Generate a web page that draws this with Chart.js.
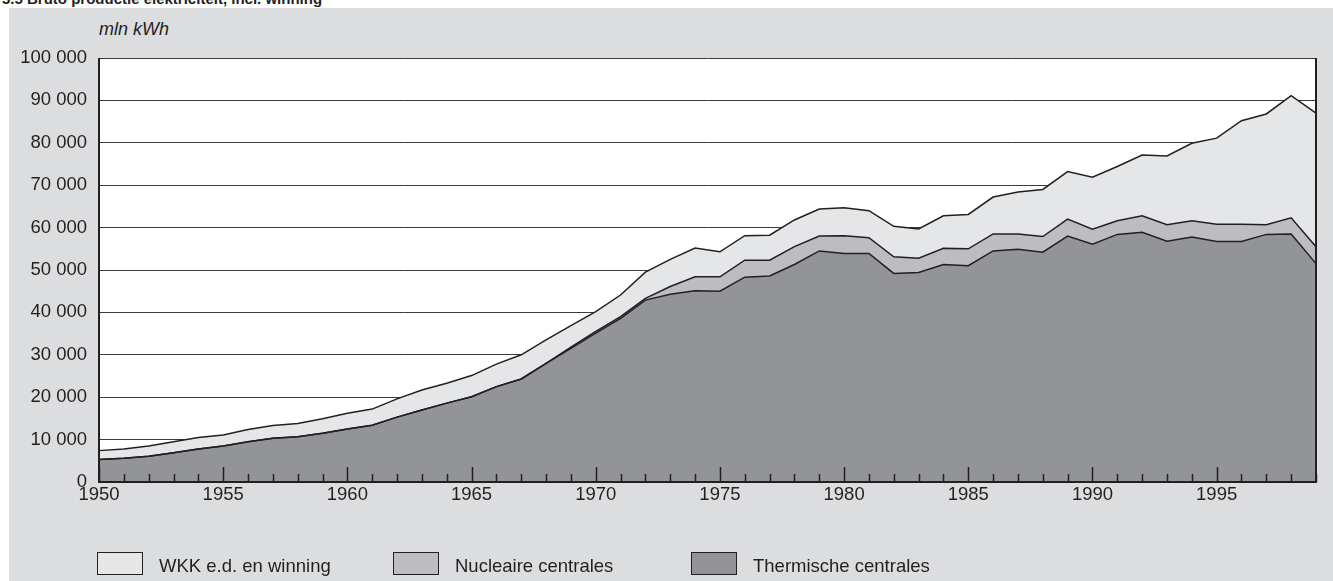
<!DOCTYPE html>
<html>
<head>
<meta charset="utf-8">
<script src="https://cdn.jsdelivr.net/npm/chart.js@4.4.1/dist/chart.umd.min.js"></script>
<style>
  html, body { margin: 0; padding: 0; background: #ffffff; width: 1333px; height: 581px; overflow: hidden; font-family: 'Liberation Sans', Arial, sans-serif; }
  #title { position: absolute; left: 2px; top: -10px; font-weight: bold; font-size: 15px; color: #231f20; white-space: nowrap; }
  #panel { position: absolute; left: 9px; top: 8px; width: 1324px; height: 573px; background: #dcdddf; }
  #unit { position: absolute; left: 99px; top: 19px; font-style: italic; font-size: 18px; color: #231f20; }
  #wrap { position: absolute; left: 9px; top: 8px; width: 1324px; height: 573px; }
  .leg { position: absolute; top: 552px; height: 23px; font-size: 18.5px; color: #231f20; line-height: 23px; white-space: nowrap; }
  .leg span.box { position: absolute; left: 0; top: 0; width: 46px; height: 23px; border: 1.5px solid #231f20; box-sizing: border-box; }
  .leg span.txt { position: absolute; left: 62px; top: 2px; }
</style>
</head>
<body>
<div id="title">3.5  Bruto productie elektriciteit, incl. winning</div>
<div id="panel"></div>
<div id="unit">mln kWh</div>
<div id="wrap"><canvas id="chartElec"></canvas></div>
<div id="legend"></div>

<script>
/* ================================================================
   Bruto productie elektriciteit (mln kWh), 1950-1999
   ================================================================ */

const years = [
  '1950','1951','1952','1953','1954','1955','1956','1957','1958','1959',
  '1960','1961','1962','1963','1964','1965','1966','1967','1968','1969',
  '1970','1971','1972','1973','1974','1975','1976','1977','1978','1979',
  '1980','1981','1982','1983','1984','1985','1986','1987','1988','1989',
  '1990','1991','1992','1993','1994','1995','1996','1997','1998','1999'
];

const thermisch = [
  5300, 5600, 6100, 6900, 7800, 8500, 9500, 10300, 10700, 11500,
  12500, 13400, 15300, 17000, 18600, 20100, 22500, 24300, 28000, 31500,
  35100, 38600, 42900, 44300, 45100, 45000, 48300, 48600, 51300, 54500,
  53900, 53900, 49200, 49400, 51300, 51000, 54500, 54900, 54200, 58000,
  56100, 58400, 58900, 56800, 57800, 56700, 56700, 58400, 58500, 51500
];

const nucleair = [
  0, 0, 0, 0, 0, 0, 0, 0, 0, 0,
  0, 0, 0, 0, 0, 0, 0, 0, 0, 300,
  400, 400, 400, 1800, 3300, 3400, 4000, 3700, 4200, 3500,
  4200, 3700, 3900, 3400, 3800, 4000, 4000, 3600, 3700, 4000,
  3500, 3200, 3900, 3900, 3800, 4100, 4100, 2300, 3800, 4000
];

const wkk = [
  2100, 2200, 2400, 2600, 2700, 2600, 2900, 3000, 3100, 3400,
  3700, 3800, 4300, 4700, 4700, 5000, 5300, 5700, 5500, 5100,
  4700, 5100, 6200, 6400, 6800, 5900, 5800, 5900, 6300, 6400,
  6600, 6400, 7200, 6900, 7700, 8100, 8700, 9900, 11100, 11200,
  12300, 12800, 14300, 16200, 18300, 20300, 24400, 26100, 28800, 31500
];

const seriesNames = ['WKK e.d. en winning', 'Nucleaire centrales', 'Thermische centrales'];
const seriesColors = ['#e5e6e8', '#bcbdc0', '#939498'];
const legendLeft = [97, 393, 691];

const INK = '#231f20';
const FONT = "'Liberation Sans', Arial, sans-serif";

// legend (HTML, bottom of panel)
const legendEl = document.getElementById('legend');
seriesNames.forEach(function(name, i) {
  const item = document.createElement('div');
  item.className = 'leg';
  item.style.left = legendLeft[i] + 'px';
  item.innerHTML = '<span class="box" style="background:' + seriesColors[i] + '"></span><span class="txt">' + name + '</span>';
  legendEl.appendChild(item);
});

// year ticks drawn inward from the x axis, plus the frame
const frameTicks = {
  id: 'frameTicks',
  afterDatasetsDraw: function(chart) {
    const { ctx, chartArea, scales } = chart;
    const x = scales.x;
    ctx.save();
    ctx.strokeStyle = INK;
    ctx.lineWidth = 1.5;
    years.forEach(function(y, i) {
      const px = Math.round(x.getPixelForValue(i)) + 0.5;
      const len = (parseInt(y, 10) % 5 === 0) ? 15 : 8;
      ctx.beginPath();
      ctx.moveTo(px, chartArea.bottom);
      ctx.lineTo(px, chartArea.bottom - len);
      ctx.stroke();
    });
    ctx.lineWidth = 2;
    ctx.beginPath();
    ctx.moveTo(chartArea.left, chartArea.top);
    ctx.lineTo(chartArea.left, chartArea.bottom);
    ctx.lineTo(chartArea.right, chartArea.bottom);
    ctx.lineTo(chartArea.right, chartArea.top);
    ctx.stroke();
    ctx.restore();
  }
};

const plotBg = {
  id: 'plotBg',
  beforeDraw: function(chart) {
    const { ctx, chartArea } = chart;
    ctx.save();
    ctx.fillStyle = '#ffffff';
    ctx.fillRect(chartArea.left, chartArea.top, chartArea.right - chartArea.left, chartArea.bottom - chartArea.top);
    ctx.restore();
  }
};

new Chart(document.getElementById('chartElec'), {
  type: 'line',
  data: {
    labels: years,
    datasets: [
      {
        label: seriesNames[2],
        data: thermisch,
        backgroundColor: seriesColors[2],
        borderColor: INK,
        borderWidth: 1.5,
        fill: 'origin',
        pointRadius: 0,
        tension: 0
      },
      {
        label: seriesNames[1],
        data: nucleair,
        backgroundColor: seriesColors[1],
        borderColor: INK,
        borderWidth: 1.5,
        fill: '-1',
        pointRadius: 0,
        tension: 0
      },
      {
        label: seriesNames[0],
        data: wkk,
        backgroundColor: seriesColors[0],
        borderColor: INK,
        borderWidth: 1.5,
        fill: '-1',
        pointRadius: 0,
        tension: 0
      }
    ]
  },
  options: {
    responsive: true,
    maintainAspectRatio: false,
    animation: false,
    layout: { padding: { top: 50, right: 17, bottom: 69, left: 0 } },
    plugins: {
      legend: { display: false },
      tooltip: { enabled: false },
      filler: { drawTime: 'beforeDatasetsDraw' }
    },
    scales: {
      x: {
        type: 'category',
        offset: false,
        grid: { display: false, drawTicks: false },
        border: { display: false },
        afterFit: function(s) { s.height = 30; },
        ticks: {
          autoSkip: false,
          maxRotation: 0,
          padding: 2,
          color: INK,
          font: { family: FONT, size: 18.5 },
          callback: function(value, index) {
            const y = parseInt(years[index], 10);
            return (y % 5 === 0) ? years[index] : '';
          }
        }
      },
      y: {
        stacked: true,
        min: 0,
        max: 100000,
        afterFit: function(s) { s.width = 90; },
        grid: { color: '#3a3a3a', lineWidth: 1, drawTicks: false },
        border: { display: false },
        ticks: {
          stepSize: 10000,
          padding: 12,
          color: INK,
          font: { family: FONT, size: 18.5 },
          callback: function(value) {
            return value.toString().replace(/\B(?=(\d{3})+(?!\d))/g, ' ');
          }
        }
      }
    }
  },
  plugins: [plotBg, frameTicks]
});
</script>
</body>
</html>
